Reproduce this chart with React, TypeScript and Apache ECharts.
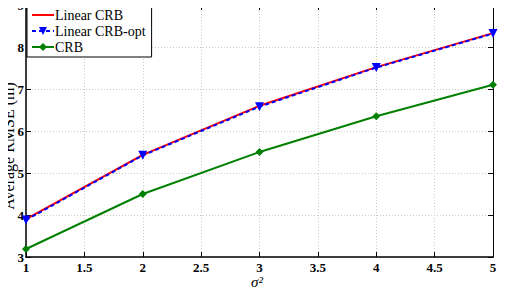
import React, { useEffect, useRef } from "react";
import * as echarts from "echarts";

const xValues = [1, 2, 3, 4, 5];
const linearCrb = [3.9, 5.43, 6.6, 7.52, 8.33];
const linearCrbOpt = [3.88, 5.42, 6.58, 7.51, 8.32];
const crb = [3.19, 4.5, 5.5, 6.35, 7.1];
const yAxisTitle = "Average RMSE (m)";
const xAxisTitle = "σ²";

const serif = "Liberation Serif";

export default function App() {
  const ref = useRef<HTMLDivElement>(null);
  useEffect(() => {
    if (!ref.current) return;
    const chart = echarts.init(ref.current, undefined, { renderer: "svg" });
    const pair = (arr: number[]) => xValues.map((x, i) => [x, arr[i]]);
    const gridLine = { show: true, lineStyle: { color: "#c8c8c8", type: [1, 2] as any, width: 1 } };
    chart.setOption({
      animation: false,
      backgroundColor: "#fff",
      grid: { left: 26, right: 25, top: 5, bottom: 45, containLabel: false, outerBoundsMode: "none" },
      graphic: [
        {
          type: "text",
          x: 0,
          y: 146,
          rotation: Math.PI / 2,
          z: 100,
          style: {
            text: yAxisTitle,
            fontFamily: serif,
            fontSize: 16,
            fill: "#000",
            align: "center",
            verticalAlign: "top",
          },
        },
        {
          type: "text",
          left: 251,
          top: 274,
          z: 100,
          style: {
            text: xAxisTitle,
            fontFamily: serif,
            fontSize: 15,
            fontStyle: "italic",
            fill: "#000",
          },
        },
      ],
      legend: {
        orient: "vertical",
        left: 27,
        top: 5,
        padding: [3, 6, 3, 4],
        itemGap: 2,
        itemWidth: 22,
        itemHeight: 10,
        backgroundColor: "#fff",
        borderColor: "#000",
        borderWidth: 1,
        borderRadius: 0,
        textStyle: { fontFamily: serif, fontSize: 14, color: "#000", padding: [0, 0, 0, -4] },
        data: [
          { name: "Linear CRB", itemStyle: { opacity: 0 } },
          "Linear CRB-opt",
          "CRB",
        ],
      },
      xAxis: [
        {
          type: "value",
          min: 1,
          max: 5,
          interval: 0.5,
          position: "bottom",
          axisLine: { show: true, onZero: false, lineStyle: { color: "#000", width: 1.5 } },
          axisTick: { show: true, inside: true, length: 5, lineStyle: { color: "#000" } },
          axisLabel: { fontFamily: serif, fontWeight: "bold", fontSize: 13, color: "#000", margin: 4 },
          splitLine: gridLine,
        },
        {
          type: "value",
          min: 1,
          max: 5,
          interval: 0.5,
          position: "top",
          axisLine: { show: true, onZero: false, lineStyle: { color: "#000", width: 1 } },
          axisTick: { show: true, inside: true, length: 5, lineStyle: { color: "#000" } },
          axisLabel: { show: false },
          splitLine: { show: false },
        },
      ],
      yAxis: [
        {
          type: "value",
          min: 3,
          max: 9,
          interval: 1,
          position: "left",
          axisLine: { show: true, onZero: false, lineStyle: { color: "#000", width: 1.5 } },
          axisTick: { show: true, inside: true, length: 5, lineStyle: { color: "#000" } },
          axisLabel: { fontFamily: serif, fontWeight: "bold", fontSize: 13, color: "#000", margin: 2 },
          splitLine: gridLine,
        },
        {
          type: "value",
          min: 3,
          max: 9,
          interval: 1,
          position: "right",
          axisLine: { show: true, onZero: false, lineStyle: { color: "#000", width: 1 } },
          axisTick: { show: true, inside: true, length: 5, lineStyle: { color: "#000" } },
          axisLabel: { show: false },
          splitLine: { show: false },
        },
      ],
      series: [
        {
          name: "Linear CRB",
          type: "line",
          data: pair(linearCrb),
          showSymbol: false,
          symbol: "none",
          lineStyle: { color: "#ff0000", width: 2 },
          itemStyle: { color: "#ff0000" },
        },
        {
          name: "Linear CRB-opt",
          type: "line",
          data: pair(linearCrbOpt),
          symbol: "triangle",
          symbolRotate: 180,
          symbolSize: 9,
          lineStyle: { color: "#0000ff", width: 2, type: [4, 3] },
          itemStyle: { color: "#0000ff" },
        },
        {
          name: "CRB",
          type: "line",
          data: pair(crb),
          symbol: "diamond",
          symbolSize: 8,
          lineStyle: { color: "#008000", width: 2 },
          itemStyle: { color: "#008000" },
        },
      ],
    });
    return () => chart.dispose();
  }, []);
  return <div ref={ref} style={{ width: 518, height: 302, margin: -8 }} />;
}
